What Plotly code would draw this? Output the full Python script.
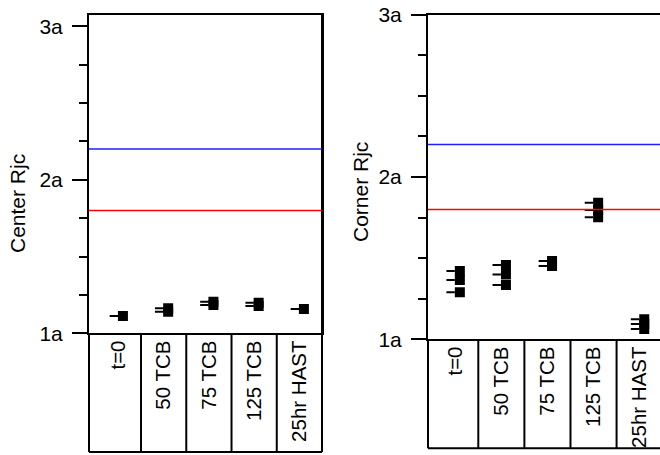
import plotly.graph_objects as go

# ---------------- data ----------------
categories = ["t=0", "50 TCB", "75 TCB", "125 TCB", "25hr HAST"]
center_values = [
    [1.113],
    [1.163, 1.141],
    [1.206, 1.184],
    [1.199, 1.178],
    [1.158],
]
corner_values = [
    [1.421, 1.365, 1.290],
    [1.458, 1.400, 1.335],
    [1.482, 1.452],
    [1.842, 1.797, 1.752],
    [1.123, 1.094, 1.063],
]
upper_limit = 2.2
lower_limit = 1.8
y_titles = ["Center Rjc", "Corner Rjc"]
tick_suffix = "a"

# ---------------- layout helpers ----------------
W, H = 660, 455
FONT = "Liberation Sans, Arial, sans-serif"


def py(pix):
    return (H - pix) / H


panels = [
    dict(values=center_values, title=y_titles[0],
         xdom=[89 / W, 322 / W], xr=[-0.65, 4.5],
         ydom=[py(333.3), py(15.0)], yr=[1, 3.073],
         table_bottom=452.0, title_xy=(18, 204)),
    dict(values=corner_values, title=y_titles[1],
         xdom=[428 / W, 1.0], xr=[-0.591, 4.442],
         ydom=[py(339.3), py(14.7)], yr=[1, 3.0],
         table_bottom=448.3, title_xy=(360, 192)),
]

fig = go.Figure()
shapes = []
annotations = []

for p_i, p in enumerate(panels):
    sfx = "" if p_i == 0 else str(p_i + 1)
    xa, ya = "x" + sfx, "y" + sfx
    sq_x, sq_y, ds_x, ds_y = [], [], [], []
    for i, vals in enumerate(p["values"]):
        for v in vals:
            sq_x.append(i + 0.1)
            sq_y.append(v)
            ds_x.append(i - 0.1)
            ds_y.append(v)
    fig.add_trace(go.Scatter(
        x=ds_x, y=ds_y, mode="markers", xaxis=xa, yaxis=ya,
        marker=dict(symbol="line-ew", size=6, color="black",
                    line=dict(color="black", width=2)),
        hoverinfo="skip", showlegend=False))
    fig.add_trace(go.Scatter(
        x=sq_x, y=sq_y, mode="markers", xaxis=xa, yaxis=ya,
        marker=dict(symbol="square", size=10, color="black",
                    line=dict(width=0)),
        showlegend=False))

    xkey = "xaxis" + sfx
    ykey = "yaxis" + sfx
    fig.update_layout(**{
        xkey: dict(domain=p["xdom"], range=p["xr"], anchor=ya,
                   automargin=False,
                   tickmode="array", tickvals=list(range(len(categories))),
                   ticktext=categories, tickangle=-90, ticks="",
                   ticklabelstandoff=-3,
                   tickfont=dict(family=FONT, size=20.5, color="black"),
                   showline=True, linecolor="black", linewidth=2,
                   mirror=True, showgrid=False, zeroline=False),
        ykey: dict(domain=p["ydom"], range=p["yr"], anchor=xa,
                   automargin=False,
                   tickmode="linear", tick0=1, dtick=1,
                   ticksuffix=tick_suffix,
                   ticks="outside", ticklen=15, tickwidth=2,
                   tickcolor="black",
                   minor=dict(dtick=0.25, tick0=1, ticks="outside",
                              ticklen=8, tickwidth=2, tickcolor="black",
                              showgrid=False),
                   ticklabelstandoff=5,
                   tickfont=dict(family=FONT, size=21, color="black"),
                   showline=True, linecolor="black", linewidth=2,
                   mirror=(p_i == 0), showgrid=False, zeroline=False),
    })

    r0, r1 = p["xr"]
    xd = xa + " domain"
    bottom = py(p["table_bottom"])
    plot_bottom = p["ydom"][0]
    plot_top = p["ydom"][1]
    line = dict(color="black", width=2)

    # category table: separators, left edge, bottom edge
    for k in range(len(categories)):
        b = k + 0.5
        f = (b - r0) / (r1 - r0)
        top = plot_top if (p_i == 0 and k == len(categories) - 1) else plot_bottom
        shapes.append(dict(type="line", xref=xd, yref="paper",
                           x0=f, x1=f, y0=top, y1=bottom, line=line))
    shapes.append(dict(type="line", xref=xd, yref="paper",
                       x0=0, x1=0, y0=plot_bottom, y1=bottom, line=line))
    shapes.append(dict(type="line", xref=xd, yref="paper",
                       x0=0, x1=1, y0=bottom, y1=bottom, line=line))

    # reference limits
    shapes.append(dict(type="line", xref=xd, yref=ya, x0=0, x1=1,
                       y0=upper_limit, y1=upper_limit,
                       line=dict(color="#1f1fff", width=1.5)))
    shapes.append(dict(type="line", xref=xd, yref=ya, x0=0, x1=1,
                       y0=lower_limit, y1=lower_limit,
                       line=dict(color="#ff0000", width=1.5)))

    tx, ty = p["title_xy"]
    annotations.append(dict(text=p["title"], xref="paper", yref="paper",
                            x=tx / W, y=py(ty), xanchor="center",
                            yanchor="middle", textangle=-90,
                            showarrow=False,
                            font=dict(family=FONT, size=21, color="black")))

fig.update_layout(width=W, height=H, autosize=False,
                  margin=dict(l=0, r=0, t=0, b=0, pad=0, autoexpand=False),
                  plot_bgcolor="white", paper_bgcolor="white",
                  showlegend=False, shapes=shapes, annotations=annotations,
                  font=dict(family=FONT, size=21, color="black"))

fig.write_html(
    "out.html",
    config={"displayModeBar": False},
    post_script="document.body.style.margin='0';document.body.style.overflow='hidden';",
)
